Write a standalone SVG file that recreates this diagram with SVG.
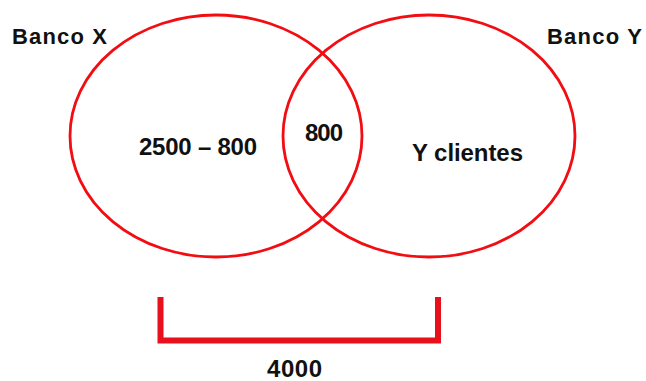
<svg xmlns="http://www.w3.org/2000/svg" width="646" height="381" viewBox="0 0 646 381">
<style>
.set{fill:none;stroke:#f20d12;stroke-width:2.8}
.br{fill:none;stroke:#e8101a;stroke-width:6;stroke-linecap:butt;stroke-linejoin:miter}
text{font-family:"Liberation Sans",Arial,sans-serif;font-weight:bold;fill:#111}
.lbl{font-size:22px}
.num{font-size:24px}
</style>
<rect width="646" height="381" fill="#fff"/>
<g id="banco-x">
<ellipse class="set" cx="216" cy="136" rx="146" ry="121"/>
<text class="lbl" x="12" y="44" textLength="95">Banco X</text>
<text class="num" x="139" y="155" textLength="118">2500 – 800</text>
</g>
<g id="banco-y">
<ellipse class="set" cx="429" cy="136" rx="146" ry="121"/>
<text class="lbl" x="547" y="44" textLength="95">Banco Y</text>
<text class="num" x="412" y="161" textLength="111">Y clientes</text>
</g>
<g id="interseccion">
<text class="num" x="305" y="141" textLength="38">800</text>
</g>
<g id="connectors">
<path class="br" d="M160.5 297 V340.5 H438 V297"/>
<text class="num" x="267" y="377" textLength="55">4000</text>
</g>
</svg>
